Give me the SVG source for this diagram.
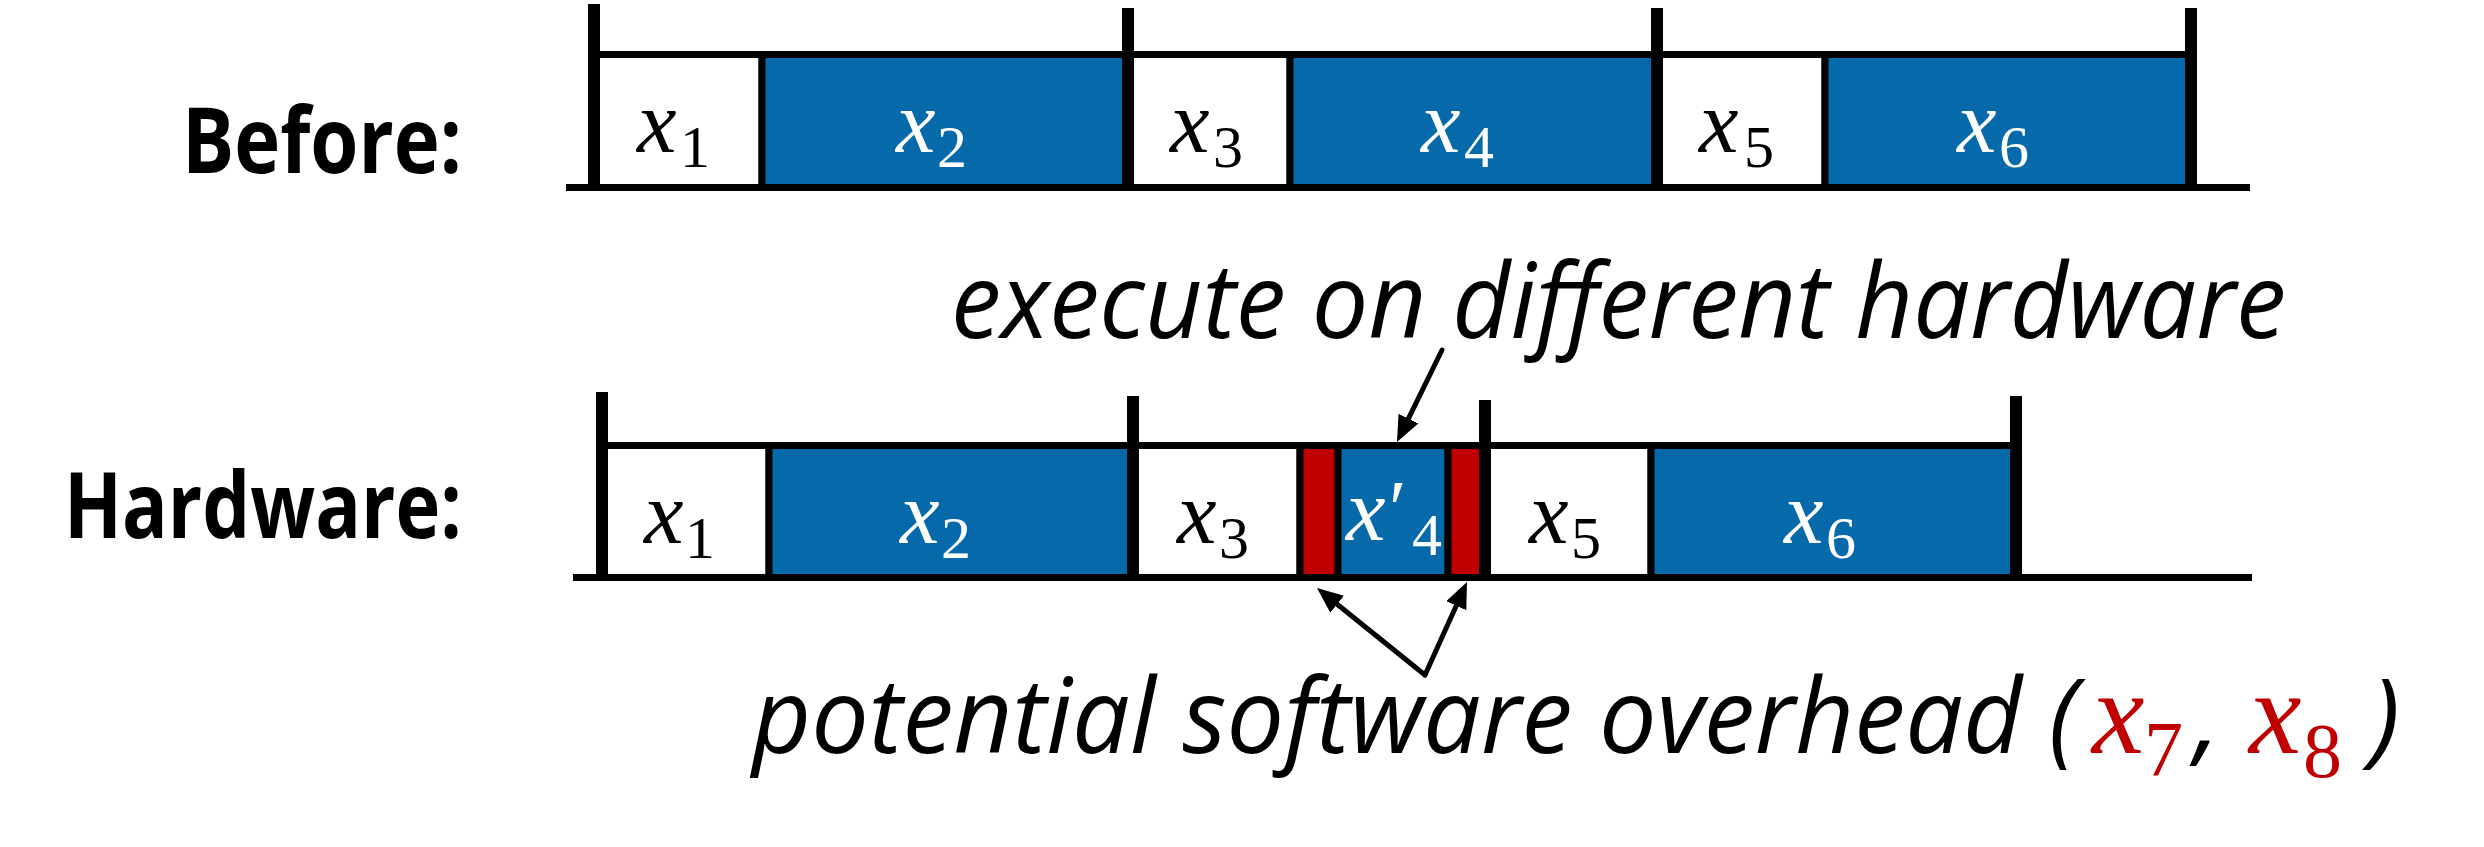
<svg xmlns="http://www.w3.org/2000/svg" width="2484" height="847" viewBox="0 0 2484 847">
<style>
.bg{fill:#fff}
.box{stroke:#000;stroke-width:7}
.w{fill:#fff}
.blue{fill:#0569AA}
.red{fill:#C00000}
.ln{stroke:#000;stroke-width:7;fill:none}
.vt{stroke:#000;stroke-width:12;fill:none}
.lbl{font-family:'Open Sans','Liberation Sans',sans-serif;font-weight:700;font-size:92px;fill:#000}
.ann{font-family:'Open Sans','Liberation Sans',sans-serif;font-style:italic;font-size:105px;fill:#000}
.mx{font-family:'Liberation Serif','DejaVu Serif',serif;font-style:italic;font-size:89px}
.pr{font-family:'Liberation Serif','DejaVu Serif',serif;font-style:normal;font-size:80px}
.sub{font-family:'Liberation Serif','DejaVu Serif',serif;font-style:normal;font-size:60px}
.mxb{font-family:'Liberation Serif','DejaVu Serif',serif;font-style:italic;font-size:118px;fill:#C00000}
.subb{font-family:'Liberation Serif','DejaVu Serif',serif;font-size:78px;fill:#C00000}
.k{fill:#000}
.wt{fill:#fff}
.arr{stroke:#000;stroke-width:5;fill:none;stroke-linecap:round}
</style>
<defs>
<marker id="ah" markerUnits="userSpaceOnUse" markerWidth="26" markerHeight="22" refX="18" refY="11" orient="auto" viewBox="0 0 26 22">
<path d="M0,0 L26,11 L0,22 z" fill="#000"/>
</marker>
</defs>
<rect class="bg" x="0" y="0" width="2484" height="847"/>

<g id="label-before"><text class="lbl" x="182" y="173" textLength="280" lengthAdjust="spacingAndGlyphs">Before:</text></g>
<g id="label-hardware"><text class="lbl" x="64" y="538" textLength="398" lengthAdjust="spacingAndGlyphs">Hardware:</text></g>

<g id="before-row">
<line class="ln" x1="566" y1="187.5" x2="2250" y2="187.5"/>
<g id="b-x1"><rect class="box w" x="594" y="54.5" width="168" height="133"/>
<text class="mx k" x="637" y="152">x</text><text class="sub k" x="680" y="167">1</text></g>
<g id="b-x2"><rect class="box blue" x="762" y="54.5" width="366" height="133"/>
<text class="mx wt" x="896" y="152">x</text><text class="sub wt" x="937" y="167">2</text></g>
<g id="b-x3"><rect class="box w" x="1128" y="54.5" width="162" height="133"/>
<text class="mx k" x="1170" y="152">x</text><text class="sub k" x="1213" y="167">3</text></g>
<g id="b-x4"><rect class="box blue" x="1290" y="54.5" width="367" height="133"/>
<text class="mx wt" x="1421" y="152">x</text><text class="sub wt" x="1464" y="167">4</text></g>
<g id="b-x5"><rect class="box w" x="1657" y="54.5" width="168" height="133"/>
<text class="mx k" x="1699" y="152">x</text><text class="sub k" x="1744" y="167">5</text></g>
<g id="b-x6"><rect class="box blue" x="1825" y="54.5" width="366" height="133"/>
<text class="mx wt" x="1957" y="152">x</text><text class="sub wt" x="1999" y="167">6</text></g>
<line class="vt" x1="594" y1="4" x2="594" y2="191"/>
<line class="vt" x1="1128" y1="8" x2="1128" y2="191"/>
<line class="vt" x1="1657" y1="8" x2="1657" y2="191"/>
<line class="vt" x1="2191" y1="8" x2="2191" y2="191"/>
</g>

<g id="hardware-row">
<line class="ln" x1="573" y1="577.5" x2="2252" y2="577.5"/>
<g id="h-x1"><rect class="box w" x="602" y="445.5" width="167" height="132"/>
<text class="mx k" x="644" y="543">x</text><text class="sub k" x="685" y="558">1</text></g>
<g id="h-x2"><rect class="box blue" x="769" y="445.5" width="364" height="132"/>
<text class="mx wt" x="900" y="543">x</text><text class="sub wt" x="941" y="558">2</text></g>
<g id="h-x3"><rect class="box w" x="1133" y="445.5" width="167" height="132"/>
<text class="mx k" x="1177" y="543">x</text><text class="sub k" x="1219" y="558">3</text></g>
<g id="h-x7"><rect class="box red" x="1300" y="445.5" width="38" height="132"/></g>
<g id="h-x4p"><rect class="box blue" x="1338" y="445.5" width="110" height="132"/>
<text class="mx wt" x="1346" y="540">x<tspan class="pr" x="1389" y="536">′</tspan><tspan class="sub" x="1412" y="555">4</tspan></text></g>
<g id="h-x8"><rect class="box red" x="1448" y="445.5" width="37" height="132"/></g>
<g id="h-x5"><rect class="box w" x="1485" y="445.5" width="166" height="132"/>
<text class="mx k" x="1529" y="543">x</text><text class="sub k" x="1571" y="558">5</text></g>
<g id="h-x6"><rect class="box blue" x="1651" y="445.5" width="365" height="132"/>
<text class="mx wt" x="1784" y="543">x</text><text class="sub wt" x="1826" y="558">6</text></g>
<line class="vt" x1="602" y1="392" x2="602" y2="581"/>
<line class="vt" x1="1133" y1="396" x2="1133" y2="581"/>
<line class="vt" x1="1485" y1="400" x2="1485" y2="581"/>
<line class="vt" x1="2016" y1="396" x2="2016" y2="581"/>
</g>

<g id="note-execute"><text class="ann" x="951" y="338" textLength="1335" lengthAdjust="spacingAndGlyphs">execute on different hardware</text></g>

<g id="note-overhead">
<text class="ann" x="752" y="753" textLength="1326" lengthAdjust="spacingAndGlyphs">potential software overhead (</text>
<text class="mxb" x="2092" y="753">x</text><text class="subb" x="2144" y="775">7</text>
<text class="ann" x="2194" y="753">,</text>
<text class="mxb" x="2249" y="753">x</text><text class="subb" x="2303" y="777">8</text>
<text class="ann" x="2370" y="753">)</text>
</g>

<g id="connectors">
<line class="arr" x1="1442" y1="350" x2="1400.5" y2="434.8" marker-end="url(#ah)"/>
<line class="arr" x1="1425" y1="675" x2="1323.2" y2="593" marker-end="url(#ah)"/>
<line class="arr" x1="1425" y1="675" x2="1463.7" y2="589.3" marker-end="url(#ah)"/>
</g>
</svg>
